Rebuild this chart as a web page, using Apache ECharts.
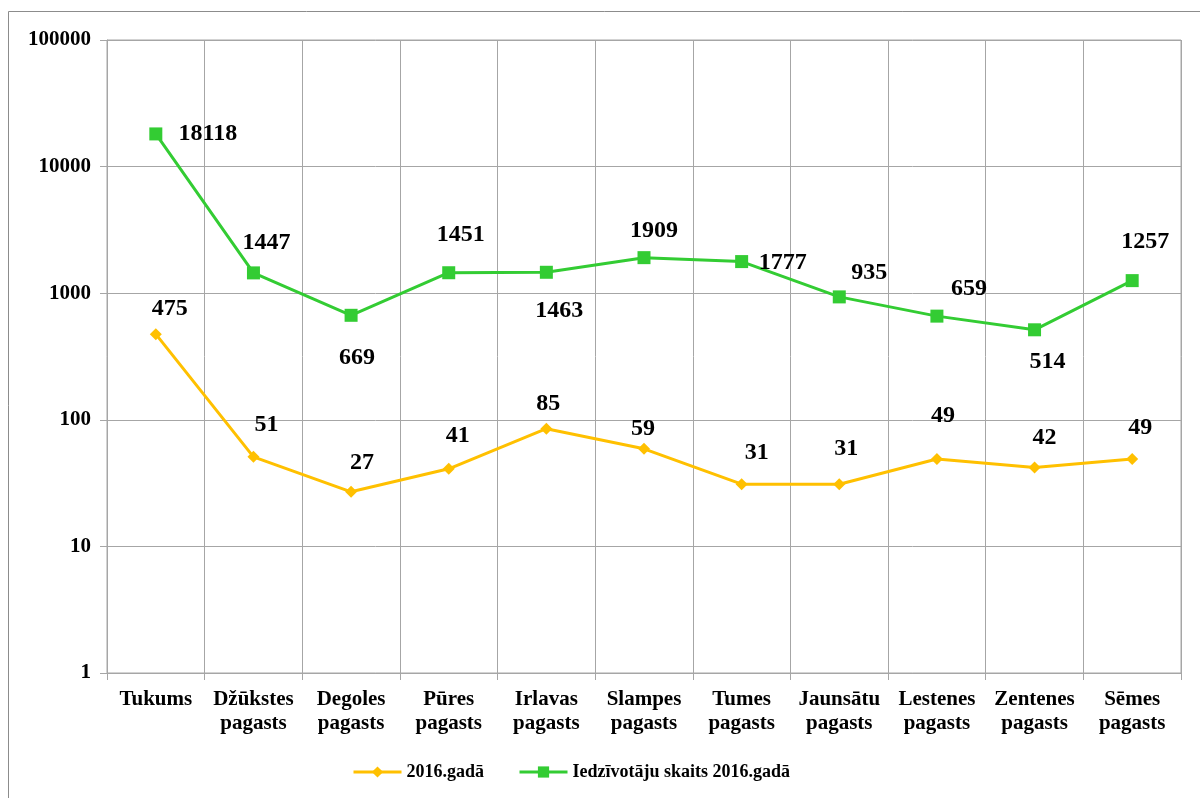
<!DOCTYPE html>
<html>
<head>
<meta charset="utf-8">
<style>
html,body{margin:0;padding:0;background:#fff;}
#chart{width:1200px;height:798px;}
</style>
<script src="https://cdn.jsdelivr.net/npm/echarts@6/dist/echarts.min.js"></script>
</head>
<body>
<div id="chart"></div>
<script>
const categories = ["Tukums", "Džūkstes\npagasts", "Degoles\npagasts", "Pūres\npagasts", "Irlavas\npagasts", "Slampes\npagasts", "Tumes\npagasts", "Jaunsātu\npagasts", "Lestenes\npagasts", "Zentenes\npagasts", "Sēmes\npagasts"];
const seriesNames = ["2016.gadā", "Iedzīvotāju skaits 2016.gadā"];
const values2016 = [475, 51, 27, 41, 85, 59, 31, 31, 49, 42, 49];
const population2016 = [18118, 1447, 669, 1451, 1463, 1909, 1777, 935, 659, 514, 1257];
const yTicks = [1, 10, 100, 1000, 10000, 100000];

// label offsets (styling only) [dx, dy] relative to point
const offOrange = [[14,-25],[13,-32],[11,-29],[9,-33],[2,-25],[-1,-20],[15,-31],[7,-35],[6,-43],[10,-30],[8,-31]];
const offGreen = [[52,0],[13,-30],[6,42],[12,-38],[13,39],[10,-27],[41,1],[30,-24],[32,-27],[13,32],[13,-39]];

const font = "'Liberation Serif', 'Times New Roman', serif";

function build(vals, offs){
  return vals.map((v,i)=>({value:v, label:{offset:offs[i]}}));
}

const chart = echarts.init(document.getElementById('chart'));
chart.setOption({
  animation:false,
  backgroundColor:'#fff',
  textStyle:{fontFamily:font},
  graphic:[{type:'rect', shape:{x:8.5,y:11.5,width:1200,height:800}, style:{fill:'none', stroke:'#8c8c8c', lineWidth:1}, silent:true}],
  grid:{left:107, right:19, top:40, bottom:125, show:true, borderColor:'#a6a6a6', borderWidth:1},
  legend:{
    bottom:12, left:347,
    itemWidth:48, itemHeight:14, itemGap:34,
    lineStyle:{width:3},
    textStyle:{fontFamily:font, fontWeight:'bold', fontSize:18, color:'#000'},
    data:seriesNames
  },
  xAxis:{
    type:'category', data:categories, boundaryGap:true,
    axisLine:{lineStyle:{color:'#a6a6a6'}},
    axisTick:{show:true, length:7, lineStyle:{color:'#a6a6a6'}},
    splitLine:{show:true, lineStyle:{color:'#a6a6a6', width:1}},
    axisLabel:{interval:0, margin:15, fontFamily:font, fontWeight:'bold', fontSize:21, color:'#000', lineHeight:24}
  },
  yAxis:{
    type:'log', logBase:10, min:1, max:100000,
    axisLine:{show:true, lineStyle:{color:'#a6a6a6'}},
    axisTick:{show:true, length:7, lineStyle:{color:'#a6a6a6'}},
    splitLine:{show:true, lineStyle:{color:'#a6a6a6', width:1}},
    axisLabel:{margin:16, fontFamily:font, fontWeight:'bold', fontSize:21, color:'#000',
      formatter:v=> yTicks.includes(Math.round(v)) ? String(Math.round(v)) : ''}
  },
  series:[
    {
      name:seriesNames[0], type:'line', data:build(values2016, offOrange),
      symbol:'diamond', symbolSize:12,
      itemStyle:{color:'#FFC000'}, lineStyle:{color:'#FFC000', width:3},
      label:{show:true, position:'inside', fontFamily:font, fontWeight:'bold', fontSize:24, color:'#000'}
    },
    {
      name:seriesNames[1], type:'line', data:build(population2016, offGreen),
      symbol:'rect', symbolSize:13,
      itemStyle:{color:'#33CC33'}, lineStyle:{color:'#33CC33', width:3},
      label:{show:true, position:'inside', fontFamily:font, fontWeight:'bold', fontSize:24, color:'#000'}
    }
  ]
});
</script>
</body>
</html>
